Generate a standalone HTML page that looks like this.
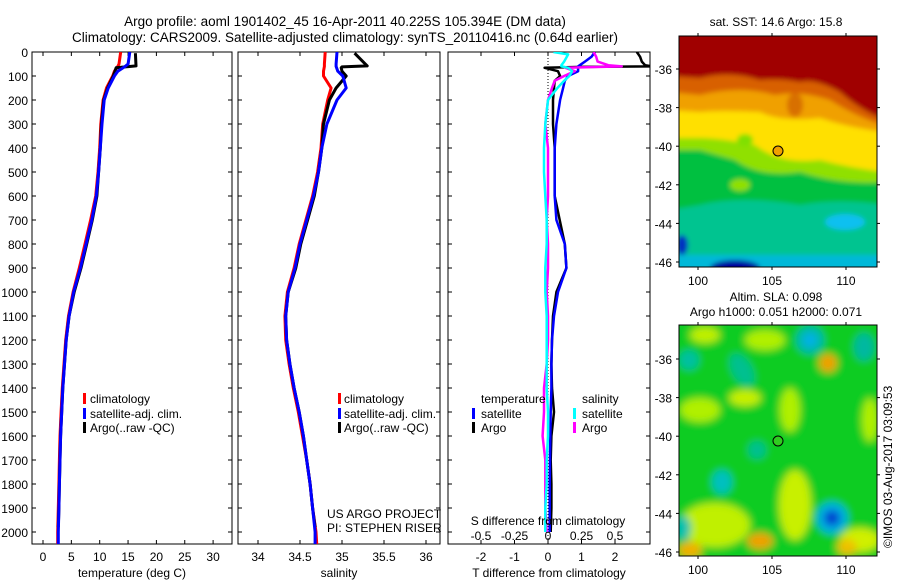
<!DOCTYPE html>
<html><head><meta charset="utf-8">
<style>
html,body{margin:0;padding:0;background:#fff;}
svg{display:block;font-family:"Liberation Sans",sans-serif;}
text{fill:#000;}
</style></head>
<body>
<svg id="fig" width="900" height="580" viewBox="0 0 900 580">
<defs>
 <filter id="bl" x="-20%" y="-20%" width="140%" height="140%"><feGaussianBlur stdDeviation="2.5"/></filter>
 <filter id="bl2" x="-50%" y="-50%" width="200%" height="200%"><feGaussianBlur stdDeviation="4"/></filter>
 <clipPath id="c1"><rect x="32" y="52" width="200" height="492"/></clipPath>
 <clipPath id="c2"><rect x="238" y="52" width="202" height="492"/></clipPath>
 <clipPath id="c3"><rect x="448" y="52" width="202" height="492"/></clipPath>
 <clipPath id="cm1"><rect x="679" y="36" width="198" height="231"/></clipPath>
 <clipPath id="cm2"><rect x="679" y="325" width="198" height="231"/></clipPath>
</defs>
<text x="345" y="26" font-size="13.5" text-anchor="middle">Argo profile: aoml 1901402_45 16-Apr-2011 40.225S 105.394E (DM data)</text>
<text x="345" y="42" font-size="13.5" text-anchor="middle">Climatology: CARS2009. Satellite-adjusted climatology: synTS_20110416.nc (0.64d earlier)</text>

<!-- map 1 -->
<g>
 <g clip-path="url(#cm1)">
  <g filter="url(#bl)">
   <rect x="670" y="30" width="215" height="245" fill="#00b8d8"/>
   <rect x="670" y="30" width="215" height="225" fill="#00c490"/>
   <path d="M670 30 H885 V205 Q840 198 800 205 Q740 195 700 205 L670 210 Z" fill="#00c040"/>
   <path d="M670 30 H885 V182 Q840 185 800 172 Q760 178 735 160 L700 150 L670 150 Z" fill="#90e000"/>
   <path d="M670 30 H885 V172 Q850 168 820 160 Q780 165 755 145 Q720 138 700 138 L670 138 Z" fill="#ffe000"/>
   <path d="M670 30 H885 V132 Q850 128 820 118 Q780 122 760 112 Q720 110 700 112 L670 110 Z" fill="#f0a000"/>
   <path d="M670 30 H885 V126 Q855 116 830 100 Q800 90 775 95 Q740 85 700 95 L670 92 Z" fill="#d86000"/>
   <path d="M670 30 H885 V120 Q860 110 840 92 Q815 78 800 82 Q780 78 760 80 Q730 70 700 78 L670 76 Z" fill="#a00000"/>
   <ellipse cx="735" cy="268" rx="25" ry="8" fill="#0000a0"/>
   <ellipse cx="682" cy="245" rx="6" ry="10" fill="#0030c0"/>
   <ellipse cx="845" cy="222" rx="20" ry="8" fill="#10c0f0"/>
   <ellipse cx="795" cy="105" rx="8" ry="12" fill="#d87000"/>
   <ellipse cx="745" cy="140" rx="8" ry="6" fill="#80e000"/>
   <ellipse cx="740" cy="185" rx="10" ry="6" fill="#90e000"/>
  </g>
 </g>
 <rect x="679" y="36" width="198" height="231" fill="none" stroke="#000" stroke-width="1"/>
 <circle cx="778" cy="151" r="5" fill="#f0a000" stroke="#000" stroke-width="1"/>
 <text x="776" y="26" font-size="12" text-anchor="middle">sat. SST: 14.6 Argo: 15.8</text>
</g>

<!-- map 2 -->
<g>
 <g clip-path="url(#cm2)">
  <g filter="url(#bl2)">
   <rect x="670" y="318" width="215" height="245" fill="#10cc20"/>
   <ellipse cx="700" cy="410" rx="20" ry="12" fill="#b0f000"/>
   <ellipse cx="745" cy="398" rx="16" ry="8" fill="#c8f000"/>
   <ellipse cx="790" cy="410" rx="10" ry="22" fill="#b0f000"/>
   <ellipse cx="715" cy="525" rx="35" ry="22" fill="#c0f000"/>
   <ellipse cx="795" cy="505" rx="16" ry="35" fill="#c8f000"/>
   <ellipse cx="860" cy="540" rx="20" ry="12" fill="#d0f000"/>
   <ellipse cx="765" cy="340" rx="20" ry="10" fill="#b0f000"/>
   <ellipse cx="705" cy="335" rx="15" ry="8" fill="#c0f000"/>
   <ellipse cx="870" cy="420" rx="8" ry="22" fill="#b0f000"/>
   <ellipse cx="828" cy="363" rx="9" ry="9" fill="#f0a000"/>
   <ellipse cx="760" cy="541" rx="13" ry="8" fill="#f0a000"/>
   <ellipse cx="847" cy="547" rx="10" ry="8" fill="#f0c000"/>
   <ellipse cx="690" cy="550" rx="12" ry="8" fill="#f0b000"/>
   <ellipse cx="810" cy="340" rx="14" ry="14" fill="#00b8b0"/>
   <ellipse cx="810" cy="340" rx="6" ry="6" fill="#00b0f0"/>
   <ellipse cx="864" cy="347" rx="10" ry="14" fill="#00b8a0"/>
   <ellipse cx="689" cy="360" rx="10" ry="10" fill="#00c0a0"/>
   <ellipse cx="742" cy="370" rx="10" ry="18" fill="#00c090" transform="rotate(-30 742 370)"/>
   <ellipse cx="757" cy="450" rx="9" ry="9" fill="#00c090"/>
   <ellipse cx="722" cy="482" rx="10" ry="12" fill="#00c0c0"/>
   <ellipse cx="832" cy="518" rx="16" ry="16" fill="#00b0e0"/>
   <ellipse cx="832" cy="518" rx="8" ry="8" fill="#0040d0"/>
   <ellipse cx="683" cy="528" rx="8" ry="12" fill="#00c0b0"/>
  </g>
 </g>
 <rect x="679" y="325" width="198" height="231" fill="none" stroke="#000" stroke-width="1"/>
 <circle cx="778" cy="441" r="5" fill="#30cc20" stroke="#000" stroke-width="1"/>
 <text x="776" y="301" font-size="12" text-anchor="middle">Altim. SLA: 0.098</text>
 <text x="776" y="316" font-size="12" text-anchor="middle">Argo h1000: 0.051 h2000: 0.071</text>
</g>
<text transform="translate(892,548) rotate(-90)" font-size="12">©IMOS 03-Aug-2017 03:09:53</text>

<g id="plots"></g>

<!-- legends -->
<g font-size="12">
 <rect x="83" y="393" width="3" height="11" fill="#f00"/><text x="90" y="403">climatology</text>
 <rect x="83" y="408" width="3" height="11" fill="#00f"/><text x="90" y="418">satellite-adj. clim.</text>
 <rect x="83" y="422" width="3" height="11" fill="#000"/><text x="90" y="432">Argo(..raw -QC)</text>
</g>
<g font-size="12">
 <rect x="338" y="393" width="3" height="11" fill="#f00"/><text x="344" y="403">climatology</text>
 <rect x="338" y="408" width="3" height="11" fill="#00f"/><text x="344" y="418">satellite-adj. clim.</text>
 <rect x="338" y="422" width="3" height="11" fill="#000"/><text x="344" y="432">Argo(..raw -QC)</text>
</g>
<g font-size="12">
 <text x="481" y="403">temperature</text>
 <rect x="472" y="408" width="3" height="11" fill="#00f"/><text x="481" y="418">satellite</text>
 <rect x="472" y="422" width="3" height="11" fill="#000"/><text x="481" y="432">Argo</text>
 <text x="582" y="403">salinity</text>
 <rect x="573" y="408" width="3" height="11" fill="#0ff"/><text x="582" y="418">satellite</text>
 <rect x="573" y="422" width="3" height="11" fill="#f0f"/><text x="582" y="432">Argo</text>
</g>
<text x="327" y="518" font-size="12">US ARGO PROJECT</text>
<text x="327" y="532" font-size="12">PI: STEPHEN RISER</text>
<text x="548" y="525" font-size="12" text-anchor="middle">S difference from climatology</text>
</svg>
<script>
// ---- data ----
const depthTicks = [0,100,200,300,400,500,600,700,800,900,1000,1100,1200,1300,1400,1500,1600,1700,1800,1900,2000];
const tempTicks = [0,5,10,15,20,25,30];
const salTicks = [34,34.5,35,35.5,36];
const tDiffTicks = [-2,-1,0,1,2];
const sDiffTicks = [-0.5,-0.25,0,0.25,0.5];
const sDiffTickLabels = ['-0.5','-0.25','0','0.25','0.5'];
const lonTicks = [100,105,110];
const latTicks = [-36,-38,-40,-42,-44,-46];

const climDepth = [0,50,60,80,100,150,200,300,400,500,600,700,800,900,1000,1100,1200,1300,1400,1500,1600,1700,1800,1900,2000,2055];
const tempClim = [13.7,13.4,13.2,12.6,12.3,11.2,10.6,10.2,10.0,9.7,9.3,8.4,7.4,6.4,5.3,4.5,4.0,3.7,3.4,3.2,3.0,2.9,2.8,2.7,2.6,2.6];
const tempSat = [15.3,15.0,14.5,13.2,12.6,11.5,10.8,10.4,10.1,9.8,9.4,8.6,7.6,6.6,5.4,4.6,4.1,3.8,3.5,3.3,3.1,3.0,2.9,2.8,2.7,2.7];
const salClim = [34.80,34.79,34.79,34.78,34.78,34.87,34.83,34.77,34.75,34.71,34.65,34.57,34.49,34.43,34.35,34.32,34.33,34.37,34.42,34.48,34.53,34.58,34.62,34.65,34.69,34.70];
const salSat = [34.94,34.93,34.93,34.95,35.01,35.05,34.94,34.82,34.76,34.72,34.66,34.58,34.50,34.44,34.36,34.33,34.34,34.38,34.43,34.49,34.54,34.58,34.62,34.65,34.68,34.68];

const argoDepth = [5,58,62,66,80,100,150,200,300,400,500,600,700,800,900,1000,1100,1200,1300,1400,1500,1600,1700,1800,1900,1980];
const tempArgo = [16.3,16.4,14.5,12.9,12.7,12.4,11.4,10.7,10.3,10.1,9.8,9.5,8.7,7.7,6.7,5.5,4.6,4.1,3.8,3.5,3.3,3.1,3.0,2.9,2.8,2.7];
const salArgo = [35.15,35.30,35.00,34.99,35.00,35.05,34.93,34.85,34.78,34.76,34.72,34.67,34.59,34.51,34.45,34.36,34.33,34.34,34.38,34.43,34.49,34.54,34.58,34.62,34.65,34.68];

const diffDepth = [0,10,20,40,55,60,62,66,80,100,120,150,200,300,400,500,600,700,800,900,1000,1100,1200,1300,1400,1500,1600,1700,1800,1900,2000];
const tDiffSat = [1.4,1.35,1.3,1.1,0.95,0.9,0.9,0.9,0.9,0.6,0.5,0.45,0.36,0.25,0.2,0.2,0.2,0.25,0.5,0.55,0.3,0.18,0.12,0.1,0.1,0.08,0.07,0.06,0.05,0.05,0.05];
const tDiffArgo = [2.65,2.7,2.75,2.8,2.9,3.1,1.0,-0.1,0.3,0.36,0.2,0.18,0.15,0.15,0.2,0.2,0.2,0.35,0.5,0.55,0.25,0.15,0.12,0.1,0.12,0.18,0.1,0.08,0.1,0.1,0.08];
const sDiffSat = [0.04,0.15,0.14,0.12,0.1,0.1,0.12,0.15,0.18,0.16,0.12,0.07,0.0,-0.02,-0.03,-0.03,-0.02,-0.01,-0.01,-0.02,-0.02,-0.01,-0.01,-0.01,-0.01,0.0,0.0,-0.01,-0.01,-0.02,-0.02];
const sDiffArgo = [0.34,0.35,0.36,0.37,0.45,0.55,0.4,0.13,0.2,0.12,0.05,0.03,0.0,-0.02,0.0,0.0,0.0,-0.01,0.0,0.0,-0.01,0.0,0.0,-0.01,-0.03,-0.03,-0.04,-0.02,-0.02,-0.02,-0.01];

// ---- axes ----
const NS='http://www.w3.org/2000/svg';
const root=document.getElementById('plots');
function yD(d){return 52+d*0.24;}
function xT(v){return 43+v*5.67;}
function xS(v){return 258+(v-34)*84;}
function xTd(v){return 548+v*33.5;}
function xSd(v){return 548+v*134;}
function lonX(v){return 698+(v-100)*14.8;}
function latY1(v){return 69+(-36-v)*19.3;}
function latY2(v){return 359+(-36-v)*19.3;}
function mk(tag,attrs,parent){const e=document.createElementNS(NS,tag);for(const k in attrs)e.setAttribute(k,attrs[k]);(parent||root).appendChild(e);return e;}
function txt(x,y,s,anchor,size,parent){const t=mk('text',{x:x,y:y,'text-anchor':anchor||'middle','font-size':size||12},parent);t.textContent=s;return t;}

const panels=[
 {name:'temperature-panel',x0:32,x1:232,clip:'c1',ticks:tempTicks,fx:xT,title:'temperature (deg C)'},
 {name:'salinity-panel',x0:238,x1:440,clip:'c2',ticks:salTicks,fx:xS,title:'salinity'},
 {name:'difference-panel',x0:448,x1:650,clip:'c3',ticks:tDiffTicks,fx:xTd,title:'T difference from climatology'}
];
panels.forEach(p=>{
 const g=mk('g',{});
 
 
 mk('rect',{x:p.x0,y:52,width:p.x1-p.x0,height:492,fill:'none',stroke:'#000','stroke-width':1},g);
 depthTicks.forEach(d=>{
  mk('line',{x1:p.x0,x2:p.x0+4,y1:yD(d),y2:yD(d),stroke:'#000'},g);
  mk('line',{x1:p.x1-4,x2:p.x1,y1:yD(d),y2:yD(d),stroke:'#000'},g);
 });
 p.ticks.forEach(v=>{
  const x=p.fx(v);
  mk('line',{x1:x,x2:x,y1:52,y2:56,stroke:'#000'},g);
  mk('line',{x1:x,x2:x,y1:540,y2:544,stroke:'#000'},g);
  const t=txt(x,561,String(v),'middle',12,g);
  
  
 });
 const at=txt((p.x0+p.x1)/2,577,p.title,'middle',12,g);
 
 
});
depthTicks.forEach(d=>{
 const t=txt(28,yD(d)+5,String(d),'end',12);
 
 
});
sDiffTicks.forEach((v,i)=>{
 const x=xSd(v);
 mk('line',{x1:x,x2:x,y1:540,y2:544,stroke:'#000'});
 const t=txt(x,540,sDiffTickLabels[i],'middle',12);
 
 
});
// zero line
const z=mk('line',{x1:xTd(0),x2:xTd(0),y1:52,y2:544,stroke:'#000','stroke-dasharray':'1,2'});



function series(xs,ds,fx,color,clip,name,w){
 const pts=xs.map((v,i)=>fx(v).toFixed(1)+','+yD(ds[i]).toFixed(1)).join(' ');
 const pl=mk('polyline',{points:pts,fill:'none',stroke:color,'stroke-width':w||3,'stroke-linejoin':'round','clip-path':'url(#'+clip+')'});
 
 
}
series(tempClim,climDepth,xT,'#f00','c1','temp-climatology-line');
series(tempArgo,argoDepth,xT,'#000','c1','temp-argo-line');
series(tempSat,climDepth,xT,'#00f','c1','temp-satellite-line');
series(salClim,climDepth,xS,'#f00','c2','sal-climatology-line');
series(salArgo,argoDepth,xS,'#000','c2','sal-argo-line');
series(salSat,climDepth,xS,'#00f','c2','sal-satellite-line');
series(tDiffArgo,diffDepth,xTd,'#000','c3','t-diff-argo-line',2.5);
series(tDiffSat,diffDepth,xTd,'#00f','c3','t-diff-satellite-line',2.5);
series(sDiffArgo,diffDepth,xSd,'#f0f','c3','s-diff-argo-line',2.5);
series(sDiffSat,diffDepth,xSd,'#0ff','c3','s-diff-satellite-line',2.5);

// map axes
[[36,267,latY1,'sst'],[325,556,latY2,'sla']].forEach(m=>{
 lonTicks.forEach(v=>{
  const x=lonX(v);
  mk('line',{x1:x,x2:x,y1:m[0]-3,y2:m[0],stroke:'#000'});
  mk('line',{x1:x,x2:x,y1:m[1],y2:m[1]+3,stroke:'#000'});
  const t=txt(x,m[1]+18,String(v),'middle',12);
  
  
 });
 latTicks.forEach(v=>{
  const y=m[2](v);
  mk('line',{x1:676,x2:679,y1:y,y2:y,stroke:'#000'});
  mk('line',{x1:877,x2:880,y1:y,y2:y,stroke:'#000'});
  const t=txt(672,y+5,String(v),'end',12);
  
  
 });
});
</script>
</body></html>
